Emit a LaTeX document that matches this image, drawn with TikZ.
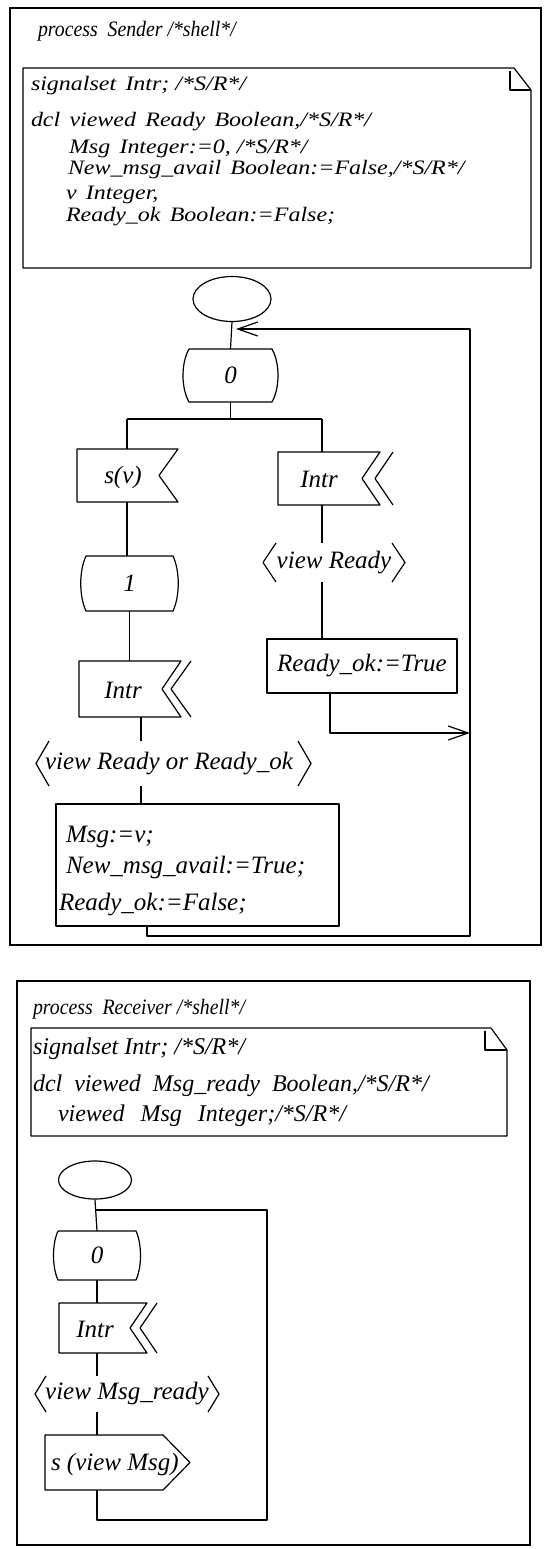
\documentclass[tikz,border=0pt]{standalone}
\usepackage{fontspec}
\setmainfont{Liberation Serif}
\newfontfamily\widefont{Liberation Serif}[FakeStretch=1.17]
\newfontfamily\narrowfont{Liberation Serif}[FakeStretch=0.9]
\usetikzlibrary{shapes.geometric,arrows.meta,calc}

% SDL text faces
\newcommand\sdllab{\itshape\fontsize{25}{27}\selectfont}
\newcommand\sdldecl{\widefont\itshape\fontsize{20.5}{22}\selectfont}
\newcommand\sdldeclr{\itshape\fontsize{24}{26}\selectfont}
\newcommand\sdltitle{\narrowfont\itshape\fontsize{22}{24}\selectfont}
\newcommand\ws{\hspace{0.45em}}

\begin{document}
\begin{tikzpicture}[x=1pt,y=-1pt,
  ln/.style={line width=1.2pt, line join=round},
  frame/.style={line width=1.4pt},
  hole/.style={inner sep=0pt, outer sep=0pt, font=\sdllab},
  txt/.style={inner sep=0pt, outer sep=0pt, anchor=base west},
  startsym/.style={ellipse, draw, ln, inner sep=0pt},
  tasksym/.style={rectangle, draw, ln, inner sep=0pt, font=\sdllab},
  barb/.style={-{Straight Barb[length=20pt,width=14pt,line width=1.2pt]}},
]
\useasboundingbox (0,0) rectangle (544,1549);

% ================= process Sender =================
\draw[frame] (10,8) rectangle (541,945);
\node[txt, font=\sdltitle] (stitle) at (38,37) {process\ \ Sender /*shell*/};

% declaration text symbol with folded corner
\draw[ln] (23,68) -- (514,68) -- (531,90) -- (531,268) -- (23,268) -- cycle;
\draw[ln] (510,71) -- (510,90) -- (531,90);
\node[txt, font=\sdldecl] (sd1) at (31,91)  {signalset\ws Intr; /*S/R*/};
\node[txt, font=\sdldecl] (sd2) at (31,127) {dcl\ws viewed\ws Ready\ws Boolean,/*S/R*/};
\node[txt, font=\sdldecl] (sd3) at (69,154) {Msg\ws Integer:=0, /*S/R*/};
\node[txt, font=\sdldecl] (sd4) at (68,175) {New\_msg\_avail\ws Boolean:=False,/*S/R*/};
\node[txt, font=\sdldecl] (sd5) at (66,200) {v\ws Integer,};
\node[txt, font=\sdldecl] (sd6) at (66,221) {Ready\_ok\ws Boolean:=False;};

% start
\node[startsym, minimum width=78pt, minimum height=45pt] (sstart) at (232,299) {};

% state 0
\node[hole, minimum width=83pt, minimum height=53pt] (sst0) at (230.5,375.5) {0};
\draw[ln] (sst0.north west) -- (sst0.north east)
  .. controls +(8,14) and +(8,-14) .. (sst0.south east)
  -- (sst0.south west)
  .. controls +(-8,-14) and +(-8,14) .. (sst0.north west);

% branch point below state 0
\coordinate (sfork) at (230.5,419);
\coordinate (sforkL) at (127,419);
\coordinate (sforkR) at (322,419);

% input s(v)
\node[hole, minimum width=101pt, minimum height=53pt] (ssv) at (127.5,475.5) {};
\node[hole] (ssvt) at (123,477) {s(v)};
\draw[ln] (ssv.north west) -- (ssv.north east) -- ($(ssv.east)+(-19,0)$)
  -- (ssv.south east) -- (ssv.south west) -- cycle;

% priority input Intr (right)
\node[hole, minimum width=102pt, minimum height=53pt] (sir) at (329,478.5) {};
\node[hole] (sirt) at (319,479) {Intr};
\draw[ln] (sir.north west) -- (sir.north east) -- ($(sir.east)+(-18,0)$)
  -- (sir.south east) -- (sir.south west) -- cycle;
\draw[ln] ($(sir.north east)+(13,0)$) -- ($(sir.east)+(-5,0)$) -- ($(sir.south east)+(13,0)$);

% enabling condition view Ready
\node[hole, minimum width=142pt, minimum height=39pt] (svr) at (334,562.5) {view Ready};
\draw[ln] ($(svr.north west)+(13,0)$) -- (svr.west) -- ($(svr.south west)+(13,0)$);
\draw[ln] ($(svr.north east)+(-13,0)$) -- (svr.east) -- ($(svr.south east)+(-13,0)$);

% task Ready_ok:=True
\node[tasksym, minimum width=190pt, minimum height=54pt] (srt) at (362,666) {Ready\_ok:=True};

% state 1
\node[hole, minimum width=87pt, minimum height=55pt] (sst1) at (129.5,583.5) {1};
\draw[ln] (sst1.north west) -- (sst1.north east)
  .. controls +(7,15) and +(7,-15) .. (sst1.south east)
  -- (sst1.south west)
  .. controls +(-7,-15) and +(-7,15) .. (sst1.north west);

% priority input Intr (left)
\node[hole, minimum width=102pt, minimum height=56pt] (sil) at (130,689) {};
\node[hole] (silt) at (123,690) {Intr};
\draw[ln] (sil.north west) -- (sil.north east) -- ($(sil.east)+(-19,0)$)
  -- (sil.south east) -- (sil.south west) -- cycle;
\draw[ln] ($(sil.north east)+(10,0)$) -- ($(sil.east)+(-10,0)$) -- ($(sil.south east)+(10,0)$);

% enabling condition view Ready or Ready_ok
\node[hole, minimum width=275pt, minimum height=45pt] (svo) at (173.5,763.5) {};
\node[hole] (svot) at (169,764) {view Ready or Ready\_ok};
\draw[ln] ($(svo.north west)+(13,0)$) -- (svo.west) -- ($(svo.south west)+(13,0)$);
\draw[ln] ($(svo.north east)+(-13,0)$) -- (svo.east) -- ($(svo.south east)+(-13,0)$);

% task Msg:=v; ...
\node[tasksym, minimum width=283pt, minimum height=122pt] (smt) at (197.5,865) {};
\node[txt, font=\sdllab] (smt1) at (66,842) {Msg:=v;};
\node[txt, font=\sdllab] (smt2) at (66,873) {New\_msg\_avail:=True;};
\node[txt, font=\sdllab] (smt3) at (59,910) {Ready\_ok:=False;};

% flow lines
\draw[ln] (sstart.south) -- (sst0.north);
\draw[ln] (sst0.south) -- (sfork);
\draw[ln] (sforkL) -- (sforkR);
\draw[ln] (sforkL) -- (sforkL |- ssv.north);
\draw[ln] (sforkR) -- (sforkR |- sir.north);
\draw[ln] (sforkR |- sir.south) -- (sforkR |- svr.north);
\draw[ln] (sforkR |- svr.south) -- (sforkR |- srt.north);
\draw[ln] (sforkL |- ssv.south) -- (sforkL |- sst1.north);
\draw[ln] (sst1.south) -- (sst1.south |- sil.north);
\coordinate (sxl) at (141,0);
\draw[ln] (sxl |- sil.south) -- (sxl |- svo.north);
\draw[ln] (sxl |- svo.south) -- (sxl |- smt.north);

% return paths
\coordinate (sjoin) at (236,329);
\coordinate (sret1) at (330,733);
\coordinate (sloopB) at (147,936);
\coordinate (sloopR) at (470,936);
\coordinate (sloopT) at (470,329);
\draw[ln, barb] (sret1 |- srt.south) -- (sret1) -- (sret1 -| sloopR);
\draw[ln, barb] (sloopB |- smt.south) -- (sloopB) -- (sloopR) -- (sloopT) -- (sjoin);

% ================= process Receiver =================
\draw[frame] (17,981) rectangle (530,1545);
\node[txt, font=\sdltitle] (rtitle) at (33,1014) {process\ \ Receiver /*shell*/};

\draw[ln] (31,1028) -- (491,1028) -- (507,1050) -- (507,1136) -- (31,1136) -- cycle;
\draw[ln] (485,1031) -- (485,1050) -- (507,1050);
\node[txt, font=\sdldeclr] (rd1) at (33,1054) {signalset Intr; /*S/R*/};
\node[txt, font=\sdldeclr] (rd2) at (33,1091) {dcl\ \ viewed\ \ Msg\_ready\ \ Boolean,/*S/R*/};
\node[txt, font=\sdldeclr] (rd3) at (58,1121) {viewed\hspace{16pt}Msg\hspace{16pt}Integer;/*S/R*/};

% start
\node[startsym, minimum width=73pt, minimum height=38pt] (rstart) at (95,1180) {};

% state 0
\node[hole, minimum width=78pt, minimum height=49pt] (rst0) at (97,1255.5) {0};
\draw[ln] (rst0.north west) -- (rst0.north east)
  .. controls +(6,13) and +(6,-13) .. (rst0.south east)
  -- (rst0.south west)
  .. controls +(-6,-13) and +(-6,13) .. (rst0.north west);

% priority input Intr
\node[hole, minimum width=88pt, minimum height=50pt] (ri) at (103,1328) {};
\node[hole] (rit) at (95,1329) {Intr};
\draw[ln] (ri.north west) -- (ri.north east) -- ($(ri.east)+(-17,0)$)
  -- (ri.south east) -- (ri.south west) -- cycle;
\draw[ln] ($(ri.north east)+(10,0)$) -- ($(ri.east)+(-7,0)$) -- ($(ri.south east)+(10,0)$);

% enabling condition view Msg_ready
\node[hole, minimum width=184pt, minimum height=36pt] (rvm) at (127,1394) {view Msg\_ready};
\draw[ln] ($(rvm.north west)+(11,0)$) -- (rvm.west) -- ($(rvm.south west)+(11,0)$);
\draw[ln] ($(rvm.north east)+(-11,0)$) -- (rvm.east) -- ($(rvm.south east)+(-11,0)$);

% output s (view Msg)
\node[hole, minimum width=145pt, minimum height=55pt] (ro) at (117.5,1462.5) {};
\node[txt, font=\sdllab] (rot) at (51,1470) {s (view Msg)};
\draw[ln] (ro.north west) -- ($(ro.north east)+(-27,0)$) -- (ro.east)
  -- ($(ro.south east)+(-27,0)$) -- (ro.south west) -- cycle;

% flow lines
\coordinate (rjoin) at (95,1210);
\coordinate (rx) at (97,0);
\draw[ln] (rstart.south) -- (rst0.north);
\draw[ln] (rst0.south) -- (rx |- ri.north);
\draw[ln] (rx |- ri.south) -- (rx |- rvm.north);
\draw[ln] (rx |- rvm.south) -- (rx |- ro.north);
\coordinate (rloopB) at (97,1520);
\coordinate (rloopR) at (267,1520);
\coordinate (rloopT) at (267,1210);
\draw[ln] (rx |- ro.south) -- (rloopB) -- (rloopR) -- (rloopT) -- (rjoin);
\end{tikzpicture}
\end{document}
